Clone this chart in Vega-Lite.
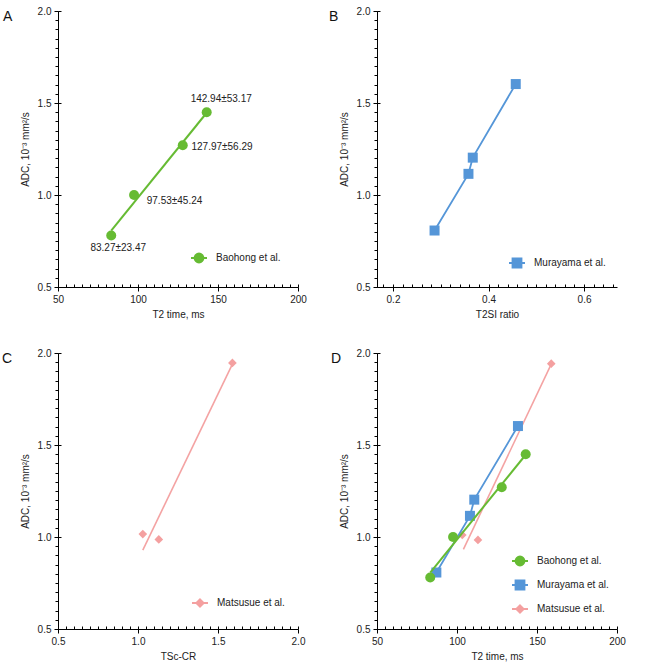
{
"$schema": "https://vega.github.io/schema/vega-lite/v6.json",
"background": "white",
"padding": {"left": 2, "top": 6, "right": 5, "bottom": 5},
"autosize": {"type": "pad"},
"datasets": {
"baohong": [
{"study": "Baohong et al.", "x": 83.27, "y": 0.78, "label": "83.27±23.47"},
{"study": "Baohong et al.", "x": 97.53, "y": 1.0, "label": "97.53±45.24"},
{"study": "Baohong et al.", "x": 127.97, "y": 1.27, "label": "127.97±56.29"},
{"study": "Baohong et al.", "x": 142.94, "y": 1.45, "label": "142.94±53.17"}],
"baohongFit": [{"x": 83.27, "y": 0.807}, {"x": 142.94, "y": 1.447}],
"murayamaB": [
{"study": "Murayama et al.", "x": 0.287, "y": 0.807},
{"study": "Murayama et al.", "x": 0.358, "y": 1.115},
{"study": "Murayama et al.", "x": 0.367, "y": 1.203},
{"study": "Murayama et al.", "x": 0.457, "y": 1.603}],
"murayamaD": [
{"study": "Murayama et al.", "x": 87.1, "y": 0.807},
{"study": "Murayama et al.", "x": 108.1, "y": 1.115},
{"study": "Murayama et al.", "x": 110.8, "y": 1.203},
{"study": "Murayama et al.", "x": 138.1, "y": 1.603}],
"matsusueC": [
{"study": "Matsusue et al.", "x": 1.03, "y": 1.016},
{"study": "Matsusue et al.", "x": 1.13, "y": 0.987},
{"study": "Matsusue et al.", "x": 1.59, "y": 1.946}],
"matsusueCFit": [{"x": 1.03, "y": 0.929}, {"x": 1.59, "y": 1.94}],
"matsusueD": [
{"study": "Matsusue et al.", "x": 103.3, "y": 1.011},
{"study": "Matsusue et al.", "x": 113.1, "y": 0.984},
{"study": "Matsusue et al.", "x": 158.9, "y": 1.942}],
"matsusueDFit": [{"x": 104, "y": 0.933}, {"x": 158.9, "y": 1.94}]
},
"columns": 2,
"spacing": {"row": 29, "column": 22},
"resolve": {"scale": {"fill": "independent", "stroke": "independent", "shape": "independent"}},
"concat": [
{
"title": {"text": "A", "anchor": "start", "frame": "group", "dx": -55, "dy": 18, "offset": 0, "fontSize": 14, "fontWeight": "normal", "font": "Liberation Sans", "color": "#111"},
"width": 240, "height": 276,
"resolve": {"axis": {"x": "independent", "y": "independent"}},
"layer": [
{"data": {"name": "baohongFit"}, "mark": {"type": "line", "color": "#66bb33", "strokeWidth": 2},
"encoding": {
"x": {"field": "x", "type": "quantitative", "scale": {"domain": [50, 200], "nice": false, "zero": false},
"axis": {"values": [50, 100, 150, 200], "format": "d", "tickSize": 4, "labelPadding": 3, "title": "T2 time, ms", "titlePadding": 5, "orient": "bottom"}},
"y": {"field": "y", "type": "quantitative", "scale": {"domain": [0.5, 2], "nice": false, "zero": false},
"axis": {"values": [0.5, 1, 1.5, 2], "format": ".1f", "tickSize": 4, "labelPadding": 3, "title": "ADC, 10⁻³ mm²/s", "titlePadding": 7, "orient": "left"}}}},
{"data": {"name": "baohong"}, "mark": {"type": "point", "shape": "circle", "filled": true, "opacity": 1, "size": 100, "color": "#66bb33"},
"encoding": {
"x": {"field": "x", "type": "quantitative", "axis": {"values": [50,55,60,65,70,75,80,85,90,95,100,105,110,115,120,125,130,135,140,145,150,155,160,165,170,175,180,185,190,195,200], "tickSize": -3, "labels": false, "domain": false, "title": null, "orient": "bottom"}},
"y": {"field": "y", "type": "quantitative", "axis": {"values": [0.5,0.55,0.6,0.65,0.7,0.75,0.8,0.85,0.9,0.95,1,1.05,1.1,1.15,1.2,1.25,1.3,1.35,1.4,1.45,1.5,1.55,1.6,1.65,1.7,1.75,1.8,1.85,1.9,1.95,2], "tickSize": 3, "labels": false, "domain": false, "title": null, "orient": "left"}}}},
{"data": {"name": "baohong"}, "transform": [{"filter": {"field": "x", "equal": 142.94}}],
"mark": {"type": "text", "align": "center", "baseline": "middle", "dx": 14.5, "dy": -13.4, "fontSize": 10, "color": "#222"},
"encoding": {"x": {"field": "x", "type": "quantitative", "axis": null}, "y": {"field": "y", "type": "quantitative", "axis": null}, "text": {"field": "label"}}},
{"data": {"name": "baohong"}, "transform": [{"filter": {"field": "x", "equal": 127.97}}],
"mark": {"type": "text", "align": "left", "baseline": "middle", "dx": 8.7, "dy": 1.7, "fontSize": 10, "color": "#222"},
"encoding": {"x": {"field": "x", "type": "quantitative", "axis": null}, "y": {"field": "y", "type": "quantitative", "axis": null}, "text": {"field": "label"}}},
{"data": {"name": "baohong"}, "transform": [{"filter": {"field": "x", "equal": 97.53}}],
"mark": {"type": "text", "align": "left", "baseline": "middle", "dx": 12.7, "dy": 6, "fontSize": 10, "color": "#222"},
"encoding": {"x": {"field": "x", "type": "quantitative", "axis": null}, "y": {"field": "y", "type": "quantitative", "axis": null}, "text": {"field": "label"}}},
{"data": {"name": "baohong"}, "transform": [{"filter": {"field": "x", "equal": 83.27}}],
"mark": {"type": "text", "align": "center", "baseline": "middle", "dx": 7, "dy": 12.3, "fontSize": 10, "color": "#222"},
"encoding": {"x": {"field": "x", "type": "quantitative", "axis": null}, "y": {"field": "y", "type": "quantitative", "axis": null}, "text": {"field": "label"}}},
{"data": {"name": "baohong"}, "mark": {"type": "point", "filled": true, "opacity": 0, "size": 256},
"encoding": {
"x": {"field": "x", "type": "quantitative", "axis": null},
"y": {"field": "y", "type": "quantitative", "axis": {"values": [0.5, 1, 1.5, 2], "tickSize": -3, "labels": false, "domain": false, "title": null, "orient": "left"}},
"fill": {"field": "study", "type": "nominal", "scale": {"domain": ["Baohong et al."], "range": ["#66bb33"]},
"legend": {"orient": "none", "legendX": 132, "legendY": 238, "title": null, "symbolSize": 256, "symbolStrokeWidth": 2, "symbolOpacity": 1, "labelFontSize": 10, "labelOffset": 8, "labelColor": "#222", "rowPadding": 6}},
"stroke": {"field": "study", "type": "nominal", "scale": {"domain": ["Baohong et al."], "range": ["#66bb33"]},
"legend": {"orient": "none", "legendX": 132, "legendY": 238, "title": null, "symbolSize": 256, "symbolStrokeWidth": 2, "symbolOpacity": 1, "labelFontSize": 10, "labelOffset": 8, "labelColor": "#222", "rowPadding": 6}},
"shape": {"field": "study", "type": "nominal", "scale": {"domain": ["Baohong et al."], "range": ["M-1,0H1M0.55,0A0.55,0.55,0,1,1,-0.55,0A0.55,0.55,0,1,1,0.55,0Z"]},
"legend": {"orient": "none", "legendX": 132, "legendY": 238, "title": null, "symbolSize": 256, "symbolStrokeWidth": 2, "symbolOpacity": 1, "labelFontSize": 10, "labelOffset": 8, "labelColor": "#222", "rowPadding": 6}}}}
]
},
{
"title": {"text": "B", "anchor": "start", "frame": "group", "dx": -48, "dy": 18, "offset": 0, "fontSize": 14, "fontWeight": "normal", "font": "Liberation Sans", "color": "#111"},
"width": 240, "height": 276,
"resolve": {"axis": {"x": "independent", "y": "independent"}},
"layer": [
{"data": {"name": "murayamaB"}, "mark": {"type": "line", "color": "#5596d8", "strokeWidth": 1.8},
"encoding": {
"x": {"field": "x", "type": "quantitative", "scale": {"domain": [0.1665, 0.669], "nice": false, "zero": false},
"axis": {"values": [0.2, 0.4, 0.6], "format": ".1f", "tickSize": 4, "labelPadding": 3, "title": "T2SI ratio", "titlePadding": 5, "orient": "bottom"}},
"y": {"field": "y", "type": "quantitative", "scale": {"domain": [0.5, 2], "nice": false, "zero": false},
"axis": {"values": [0.5, 1, 1.5, 2], "format": ".1f", "tickSize": 4, "labelPadding": 3, "title": "ADC, 10⁻³ mm²/s", "titlePadding": 7, "orient": "left"}}}},
{"data": {"name": "murayamaB"}, "mark": {"type": "point", "shape": "square", "filled": true, "opacity": 1, "size": 100, "color": "#5596d8"},
"encoding": {
"x": {"field": "x", "type": "quantitative", "axis": {"values": [0.18,0.2,0.22,0.24,0.26,0.28,0.3,0.32,0.34,0.36,0.38,0.4,0.42,0.44,0.46,0.48,0.5,0.52,0.54,0.56,0.58,0.6,0.62,0.64,0.66], "tickSize": -3, "labels": false, "domain": false, "title": null, "orient": "bottom"}},
"y": {"field": "y", "type": "quantitative", "axis": {"values": [0.5,0.55,0.6,0.65,0.7,0.75,0.8,0.85,0.9,0.95,1,1.05,1.1,1.15,1.2,1.25,1.3,1.35,1.4,1.45,1.5,1.55,1.6,1.65,1.7,1.75,1.8,1.85,1.9,1.95,2], "tickSize": 3, "labels": false, "domain": false, "title": null, "orient": "left"}}}},
{"data": {"name": "murayamaB"}, "mark": {"type": "point", "filled": true, "opacity": 0, "size": 256},
"encoding": {
"x": {"field": "x", "type": "quantitative", "axis": null},
"y": {"field": "y", "type": "quantitative", "axis": {"values": [0.5, 1, 1.5, 2], "tickSize": -3, "labels": false, "domain": false, "title": null, "orient": "left"}},
"fill": {"field": "study", "type": "nominal", "scale": {"domain": ["Murayama et al."], "range": ["#5596d8"]},
"legend": {"orient": "none", "legendX": 131, "legendY": 243, "title": null, "symbolSize": 256, "symbolStrokeWidth": 2, "symbolOpacity": 1, "labelFontSize": 10, "labelOffset": 8, "labelColor": "#222", "rowPadding": 6}},
"stroke": {"field": "study", "type": "nominal", "scale": {"domain": ["Murayama et al."], "range": ["#5596d8"]},
"legend": {"orient": "none", "legendX": 131, "legendY": 243, "title": null, "symbolSize": 256, "symbolStrokeWidth": 2, "symbolOpacity": 1, "labelFontSize": 10, "labelOffset": 8, "labelColor": "#222", "rowPadding": 6}},
"shape": {"field": "study", "type": "nominal", "scale": {"domain": ["Murayama et al."], "range": ["M-1,0H1M-0.55,-0.55H0.55V0.55H-0.55Z"]},
"legend": {"orient": "none", "legendX": 131, "legendY": 243, "title": null, "symbolSize": 256, "symbolStrokeWidth": 2, "symbolOpacity": 1, "labelFontSize": 10, "labelOffset": 8, "labelColor": "#222", "rowPadding": 6}}}}
]
},
{
"title": {"text": "C", "anchor": "start", "frame": "group", "dx": -56, "dy": 18, "offset": 0, "fontSize": 14, "fontWeight": "normal", "font": "Liberation Sans", "color": "#111"},
"width": 240, "height": 276,
"resolve": {"axis": {"x": "independent", "y": "independent"}},
"layer": [
{"data": {"name": "matsusueCFit"}, "mark": {"type": "line", "color": "#f4a3a3", "strokeWidth": 1.6},
"encoding": {
"x": {"field": "x", "type": "quantitative", "scale": {"domain": [0.5, 2], "nice": false, "zero": false},
"axis": {"values": [0.5, 1, 1.5, 2], "format": ".1f", "tickSize": 4, "labelPadding": 3, "title": "TSc-CR", "titlePadding": 5, "orient": "bottom"}},
"y": {"field": "y", "type": "quantitative", "scale": {"domain": [0.5, 2], "nice": false, "zero": false},
"axis": {"values": [0.5, 1, 1.5, 2], "format": ".1f", "tickSize": 4, "labelPadding": 3, "title": "ADC, 10⁻³ mm²/s", "titlePadding": 7, "orient": "left"}}}},
{"data": {"name": "matsusueC"}, "mark": {"type": "point", "shape": "diamond", "filled": true, "opacity": 1, "size": 75, "color": "#f4a0a0"},
"encoding": {
"x": {"field": "x", "type": "quantitative", "axis": {"values": [0.5,0.55,0.6,0.65,0.7,0.75,0.8,0.85,0.9,0.95,1,1.05,1.1,1.15,1.2,1.25,1.3,1.35,1.4,1.45,1.5,1.55,1.6,1.65,1.7,1.75,1.8,1.85,1.9,1.95,2], "tickSize": -3, "labels": false, "domain": false, "title": null, "orient": "bottom"}},
"y": {"field": "y", "type": "quantitative", "axis": {"values": [0.5,0.55,0.6,0.65,0.7,0.75,0.8,0.85,0.9,0.95,1,1.05,1.1,1.15,1.2,1.25,1.3,1.35,1.4,1.45,1.5,1.55,1.6,1.65,1.7,1.75,1.8,1.85,1.9,1.95,2], "tickSize": 3, "labels": false, "domain": false, "title": null, "orient": "left"}}}},
{"data": {"name": "matsusueC"}, "mark": {"type": "point", "filled": true, "opacity": 0, "size": 256},
"encoding": {
"x": {"field": "x", "type": "quantitative", "axis": null},
"y": {"field": "y", "type": "quantitative", "axis": {"values": [0.5, 1, 1.5, 2], "tickSize": -3, "labels": false, "domain": false, "title": null, "orient": "left"}},
"fill": {"field": "study", "type": "nominal", "scale": {"domain": ["Matsusue et al."], "range": ["#f4a0a0"]},
"legend": {"orient": "none", "legendX": 133, "legendY": 241, "title": null, "symbolSize": 256, "symbolStrokeWidth": 2, "symbolOpacity": 1, "labelFontSize": 10, "labelOffset": 8, "labelColor": "#222", "rowPadding": 6}},
"stroke": {"field": "study", "type": "nominal", "scale": {"domain": ["Matsusue et al."], "range": ["#f4a0a0"]},
"legend": {"orient": "none", "legendX": 133, "legendY": 241, "title": null, "symbolSize": 256, "symbolStrokeWidth": 2, "symbolOpacity": 1, "labelFontSize": 10, "labelOffset": 8, "labelColor": "#222", "rowPadding": 6}},
"shape": {"field": "study", "type": "nominal", "scale": {"domain": ["Matsusue et al."], "range": ["M-1,0H1M0,-0.45L0.45,0L0,0.45L-0.45,0Z"]},
"legend": {"orient": "none", "legendX": 133, "legendY": 241, "title": null, "symbolSize": 256, "symbolStrokeWidth": 2, "symbolOpacity": 1, "labelFontSize": 10, "labelOffset": 8, "labelColor": "#222", "rowPadding": 6}}}}
]
},
{
"title": {"text": "D", "anchor": "start", "frame": "group", "dx": -46, "dy": 18, "offset": 0, "fontSize": 14, "fontWeight": "normal", "font": "Liberation Sans", "color": "#111"},
"width": 240, "height": 276,
"resolve": {"axis": {"x": "independent", "y": "independent"}},
"layer": [
{"data": {"name": "matsusueDFit"}, "mark": {"type": "line", "color": "#f4a3a3", "strokeWidth": 1.6},
"encoding": {
"x": {"field": "x", "type": "quantitative", "scale": {"domain": [50, 200], "nice": false, "zero": false},
"axis": {"values": [50, 100, 150, 200], "format": "d", "tickSize": 4, "labelPadding": 3, "title": "T2 time, ms", "titlePadding": 5, "orient": "bottom"}},
"y": {"field": "y", "type": "quantitative", "scale": {"domain": [0.5, 2], "nice": false, "zero": false},
"axis": {"values": [0.5, 1, 1.5, 2], "format": ".1f", "tickSize": 4, "labelPadding": 3, "title": "ADC, 10⁻³ mm²/s", "titlePadding": 7, "orient": "left"}}}},
{"data": {"name": "matsusueD"}, "mark": {"type": "point", "shape": "diamond", "filled": true, "opacity": 1, "size": 75, "color": "#f4a0a0"},
"encoding": {
"x": {"field": "x", "type": "quantitative", "axis": {"values": [50,55,60,65,70,75,80,85,90,95,100,105,110,115,120,125,130,135,140,145,150,155,160,165,170,175,180,185,190,195,200], "tickSize": -3, "labels": false, "domain": false, "title": null, "orient": "bottom"}},
"y": {"field": "y", "type": "quantitative", "axis": {"values": [0.5,0.55,0.6,0.65,0.7,0.75,0.8,0.85,0.9,0.95,1,1.05,1.1,1.15,1.2,1.25,1.3,1.35,1.4,1.45,1.5,1.55,1.6,1.65,1.7,1.75,1.8,1.85,1.9,1.95,2], "tickSize": 3, "labels": false, "domain": false, "title": null, "orient": "left"}}}},
{"data": {"name": "murayamaD"}, "mark": {"type": "line", "color": "#5596d8", "strokeWidth": 1.8},
"encoding": {"x": {"field": "x", "type": "quantitative", "axis": null}, "y": {"field": "y", "type": "quantitative", "axis": null}}},
{"data": {"name": "murayamaD"}, "mark": {"type": "point", "shape": "square", "filled": true, "opacity": 1, "size": 100, "color": "#5596d8"},
"encoding": {"x": {"field": "x", "type": "quantitative", "axis": null}, "y": {"field": "y", "type": "quantitative", "axis": null}}},
{"data": {"name": "baohongFit"}, "mark": {"type": "line", "color": "#66bb33", "strokeWidth": 2},
"encoding": {"x": {"field": "x", "type": "quantitative", "axis": null}, "y": {"field": "y", "type": "quantitative", "axis": null}}},
{"data": {"name": "baohong"}, "mark": {"type": "point", "shape": "circle", "filled": true, "opacity": 1, "size": 100, "color": "#66bb33"},
"encoding": {"x": {"field": "x", "type": "quantitative", "axis": null}, "y": {"field": "y", "type": "quantitative", "axis": null}}},
{"data": {"name": "matsusueD"}, "mark": {"type": "point", "filled": true, "opacity": 0, "size": 256},
"encoding": {
"x": {"field": "x", "type": "quantitative", "axis": null},
"y": {"field": "y", "type": "quantitative", "axis": {"values": [0.5, 1, 1.5, 2], "tickSize": -3, "labels": false, "domain": false, "title": null, "orient": "left"}},
"fill": {"field": "study", "type": "nominal", "scale": {"domain": ["Baohong et al.", "Murayama et al.", "Matsusue et al."], "range": ["#66bb33", "#5596d8", "#f4a0a0"]},
"legend": {"orient": "none", "legendX": 134, "legendY": 199, "title": null, "symbolSize": 256, "symbolStrokeWidth": 2, "symbolOpacity": 1, "labelFontSize": 10, "labelOffset": 8, "labelColor": "#222", "rowPadding": 6}},
"stroke": {"field": "study", "type": "nominal", "scale": {"domain": ["Baohong et al.", "Murayama et al.", "Matsusue et al."], "range": ["#66bb33", "#5596d8", "#f4a0a0"]},
"legend": {"orient": "none", "legendX": 134, "legendY": 199, "title": null, "symbolSize": 256, "symbolStrokeWidth": 2, "symbolOpacity": 1, "labelFontSize": 10, "labelOffset": 8, "labelColor": "#222", "rowPadding": 6}},
"shape": {"field": "study", "type": "nominal", "scale": {"domain": ["Baohong et al.", "Murayama et al.", "Matsusue et al."], "range": ["M-1,0H1M0.55,0A0.55,0.55,0,1,1,-0.55,0A0.55,0.55,0,1,1,0.55,0Z", "M-1,0H1M-0.55,-0.55H0.55V0.55H-0.55Z", "M-1,0H1M0,-0.45L0.45,0L0,0.45L-0.45,0Z"]},
"legend": {"orient": "none", "legendX": 134, "legendY": 199, "title": null, "symbolSize": 256, "symbolStrokeWidth": 2, "symbolOpacity": 1, "labelFontSize": 10, "labelOffset": 8, "labelColor": "#222", "rowPadding": 6}}}}
]
}
],
"config": {
"view": {"stroke": null},
"font": "Liberation Sans",
"axis": {"labelFont": "Liberation Sans", "titleFont": "Liberation Sans", "labelFontSize": 10, "titleFontSize": 10, "titleFontWeight": "normal", "labelColor": "#222", "titleColor": "#222", "domainColor": "#000", "tickColor": "#000", "domainWidth": 1, "tickWidth": 1, "grid": false, "labelFlush": false, "labelOverlap": false},
"legend": {"labelFont": "Liberation Sans"},
"text": {"font": "Liberation Sans"}
}
}
